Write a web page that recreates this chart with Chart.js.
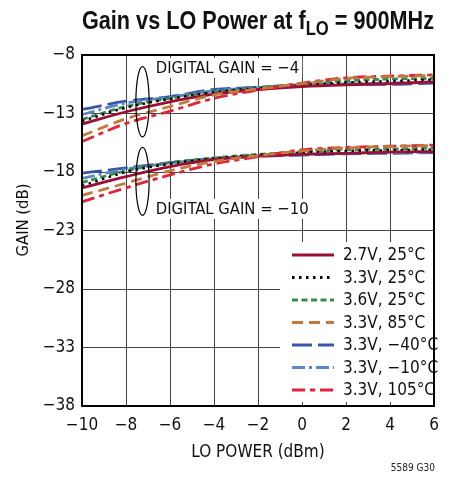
<!DOCTYPE html>
<html>
<head>
<meta charset="utf-8">
<script src="https://cdn.jsdelivr.net/npm/chart.js@4"></script>
<style>
html,body{margin:0;padding:0;background:#fff;}
#wrap{position:relative;width:454px;height:477px;}
#title{position:absolute;left:82px;top:5px;font-family:"Liberation Sans",Arial,sans-serif;font-weight:bold;font-size:26px;color:#111;white-space:nowrap;transform-origin:0 0;display:inline-block;}
#title sub{font-size:20px;vertical-align:-6px;line-height:0;}
#foot{position:absolute;right:19px;top:462px;font-family:"DejaVu Sans Condensed","Liberation Sans",sans-serif;font-size:10px;color:#222;}
</style>
</head>
<body>
<div id="wrap">
<canvas id="c" width="454" height="477"></canvas>
<div id="title">Gain vs LO Power at f<sub>LO</sub> = 900MHz</div>
<div id="foot">5589 G30</div>
</div>
<script>
const loPower = [-10, -8, -6, -4, -2, 0, 2, 4, 6];
const seriesLabels = ["2.7V, 25°C","3.3V, 25°C","3.6V, 25°C","3.3V, 85°C","3.3V, −40°C","3.3V, −10°C","3.3V, 105°C"];
// Digital gain = -4
const g4_27v25 = [-13.9, -12.85, -12.0, -11.35, -10.95, -10.7, -10.55, -10.45, -10.3];
const g4_33v25 = [-13.65, -12.5, -11.75, -11.2, -10.85, -10.6, -10.35, -10.25, -10.1];
const g4_36v25 = [-13.5, -12.4, -11.7, -11.15, -10.8, -10.5, -10.2, -10.05, -10.0];
const g4_33v85 = [-14.9, -13.45, -12.4, -11.4, -10.9, -10.45, -10.0, -9.85, -9.75];
const g4_33vm40 = [-12.65, -11.95, -11.55, -10.95, -10.75, -10.55, -10.5, -10.5, -10.4];
const g4_33vm10 = [-13.1, -12.1, -11.6, -11.05, -10.8, -10.55, -10.45, -10.4, -10.3];
const g4_33v105 = [-15.4, -13.85, -12.8, -11.7, -11.0, -10.4, -9.95, -9.8, -9.7];
// Digital gain = -10
const g10_27v25 = [-19.35, -18.4, -17.55, -16.95, -16.65, -16.5, -16.4, -16.3, -16.25];
const g10_33v25 = [-19.2, -18.0, -17.3, -16.85, -16.55, -16.35, -16.2, -16.15, -16.1];
const g10_36v25 = [-18.9, -17.9, -17.2, -16.8, -16.5, -16.3, -16.1, -16.05, -15.95];
const g10_33v85 = [-20.0, -18.95, -17.9, -17.1, -16.6, -16.2, -15.95, -15.8, -15.75];
const g10_33vm40 = [-18.1, -17.65, -17.2, -16.85, -16.65, -16.55, -16.45, -16.4, -16.35];
const g10_33vm10 = [-18.55, -17.75, -17.25, -16.85, -16.6, -16.5, -16.4, -16.35, -16.3];
const g10_33v105 = [-20.55, -19.35, -18.25, -17.3, -16.7, -16.1, -15.9, -15.8, -15.7];
const yTicks = [-38, -33, -28, -23, -18, -13, -8];
const xTicks = [-10, -8, -6, -4, -2, 0, 2, 4, 6];

(function(){
  const t = document.getElementById('title');
  const s = 352 / t.offsetWidth;
  t.style.transform = 'scaleX(' + s + ')';
})();

const styles = [
  {color:'#9a1035', dash:[]},
  {color:'#000000', dash:[2.5,4.5]},
  {color:'#3a8a4a', dash:[6,3.5]},
  {color:'#c27a3a', dash:[11,6]},
  {color:'#3a55a8', dash:[20,6]},
  {color:'#5a88c8', dash:[13,4,3,4]},
  {color:'#e0253a', dash:[13,5,5,5]}
];
const g4 = [g4_27v25,g4_33v25,g4_36v25,g4_33v85,g4_33vm40,g4_33vm10,g4_33v105];
const g10 = [g10_27v25,g10_33v25,g10_36v25,g10_33v85,g10_33vm40,g10_33vm10,g10_33v105];

const datasets = [];
const order = [3,6,0,1,2,5,4];
function mk(arr, i){
  return {
    label: seriesLabels[i],
    data: loPower.map((x,k)=>({x:x, y:arr[k]})),
    borderColor: styles[i].color,
    borderDash: styles[i].dash,
    borderWidth: i===1 ? 2.6 : 2.8,
    pointRadius: 0,
    fill: false,
    cubicInterpolationMode: 'monotone'
  };
}
order.forEach(i=>{ datasets.push(mk(g4[i], i)); });
order.forEach(i=>{ datasets.push(mk(g10[i], i)); });

const FONT = '"DejaVu Sans Condensed","Liberation Sans",Arial,sans-serif';

const overlay = {
  id:'overlay',
  afterDatasetsDraw(chart){
    const ctx = chart.ctx, xs = chart.scales.x, ys = chart.scales.y;
    ctx.save();
    ctx.strokeStyle = '#000'; ctx.lineWidth = 1.2; ctx.setLineDash([]);
    [[-7.25, -12.0, 3.0], [-7.25, -18.8, 2.9]].forEach(e=>{
      const cx = xs.getPixelForValue(e[0]);
      const cy = ys.getPixelForValue(e[1]);
      const ry = Math.abs(ys.getPixelForValue(e[1]+e[2]) - cy);
      const rx = Math.abs(xs.getPixelForValue(e[0]+0.3) - cx);
      ctx.beginPath(); ctx.ellipse(cx, cy, rx, ry, 0, 0, Math.PI*2); ctx.stroke();
    });
    ctx.font = '16.5px ' + FONT;
    ctx.textBaseline = 'middle'; ctx.textAlign = 'left';
    [["DIGITAL GAIN = −4", -6.65, -9.1], ["DIGITAL GAIN = −10", -6.65, -21.15]].forEach(t=>{
      const px = xs.getPixelForValue(t[1]);
      const py = ys.getPixelForValue(t[2]);
      const w = ctx.measureText(t[0]).width;
      ctx.fillStyle = '#fff'; ctx.fillRect(px-3, py-10, w+6, 20);
      ctx.fillStyle = '#111'; ctx.fillText(t[0], px, py+1);
    });
    const ca = chart.chartArea;
    ctx.font = '17px ' + FONT;
    ctx.fillStyle = '#fff';
    ctx.fillRect(280, 242, ca.right - 281, 160);
    for (let i=0;i<7;i++){
      const y = 255 + i*22.5;
      ctx.beginPath();
      ctx.strokeStyle = styles[i].color;
      ctx.lineWidth = 3;
      ctx.setLineDash(styles[i].dash);
      ctx.moveTo(292, y); ctx.lineTo(334, y); ctx.stroke();
      ctx.setLineDash([]);
      ctx.fillStyle = '#111';
      ctx.fillText(seriesLabels[i], 343, y+1);
    }
    ctx.strokeStyle = '#000'; ctx.lineWidth = 2;
    ctx.strokeRect(ca.left, ca.top, ca.right-ca.left, ca.bottom-ca.top);
    // y axis title
    ctx.translate(24, 220);
    ctx.rotate(-Math.PI/2);
    ctx.textAlign = 'center'; ctx.textBaseline = 'middle';
    ctx.font = '16.5px ' + FONT;
    ctx.fillStyle = '#111';
    ctx.fillText('GAIN (dB)', 0, 0);
    ctx.restore();
  }
};

new Chart(document.getElementById('c'), {
  type: 'line',
  data: { datasets: datasets },
  options: {
    responsive: false,
    animation: false,
    layout: { padding: { top: 55, right: 20, left: 0, bottom: 14 } },
    plugins: { legend: { display: false }, tooltip: { enabled: false }, title: { display: false } },
    scales: {
      x: {
        type: 'linear', min: -10, max: 6,
        afterBuildTicks: (s)=>{ s.ticks = xTicks.map(v=>({value:v})); },
        afterFit: (s)=>{ s.height = 57; },
        grid: { color: '#444', lineWidth: 1, drawTicks: false },
        border: { color: '#000', width: 2 },
        ticks: { color: '#111', font: { family: FONT, size: 17 }, padding: 9,
          callback: (v)=> String(v).replace('-', '−') },
        title: { display: true, text: 'LO POWER (dBm)', color: '#111', font: { family: FONT, size: 17 }, padding: { top: 2, bottom: 0 } }
      },
      y: {
        type: 'linear', min: -38, max: -8,
        afterBuildTicks: (s)=>{ s.ticks = yTicks.map(v=>({value:v})); },
        afterFit: (s)=>{ s.width = 82; },
        grid: { color: '#444', lineWidth: 1, drawTicks: false },
        border: { color: '#000', width: 2 },
        ticks: { color: '#111', font: { family: FONT, size: 17 }, padding: 7,
          callback: (v)=> String(v).replace('-', '−') },
        title: { display: false }
      }
    }
  },
  plugins: [overlay]
});
</script>
</body>
</html>
